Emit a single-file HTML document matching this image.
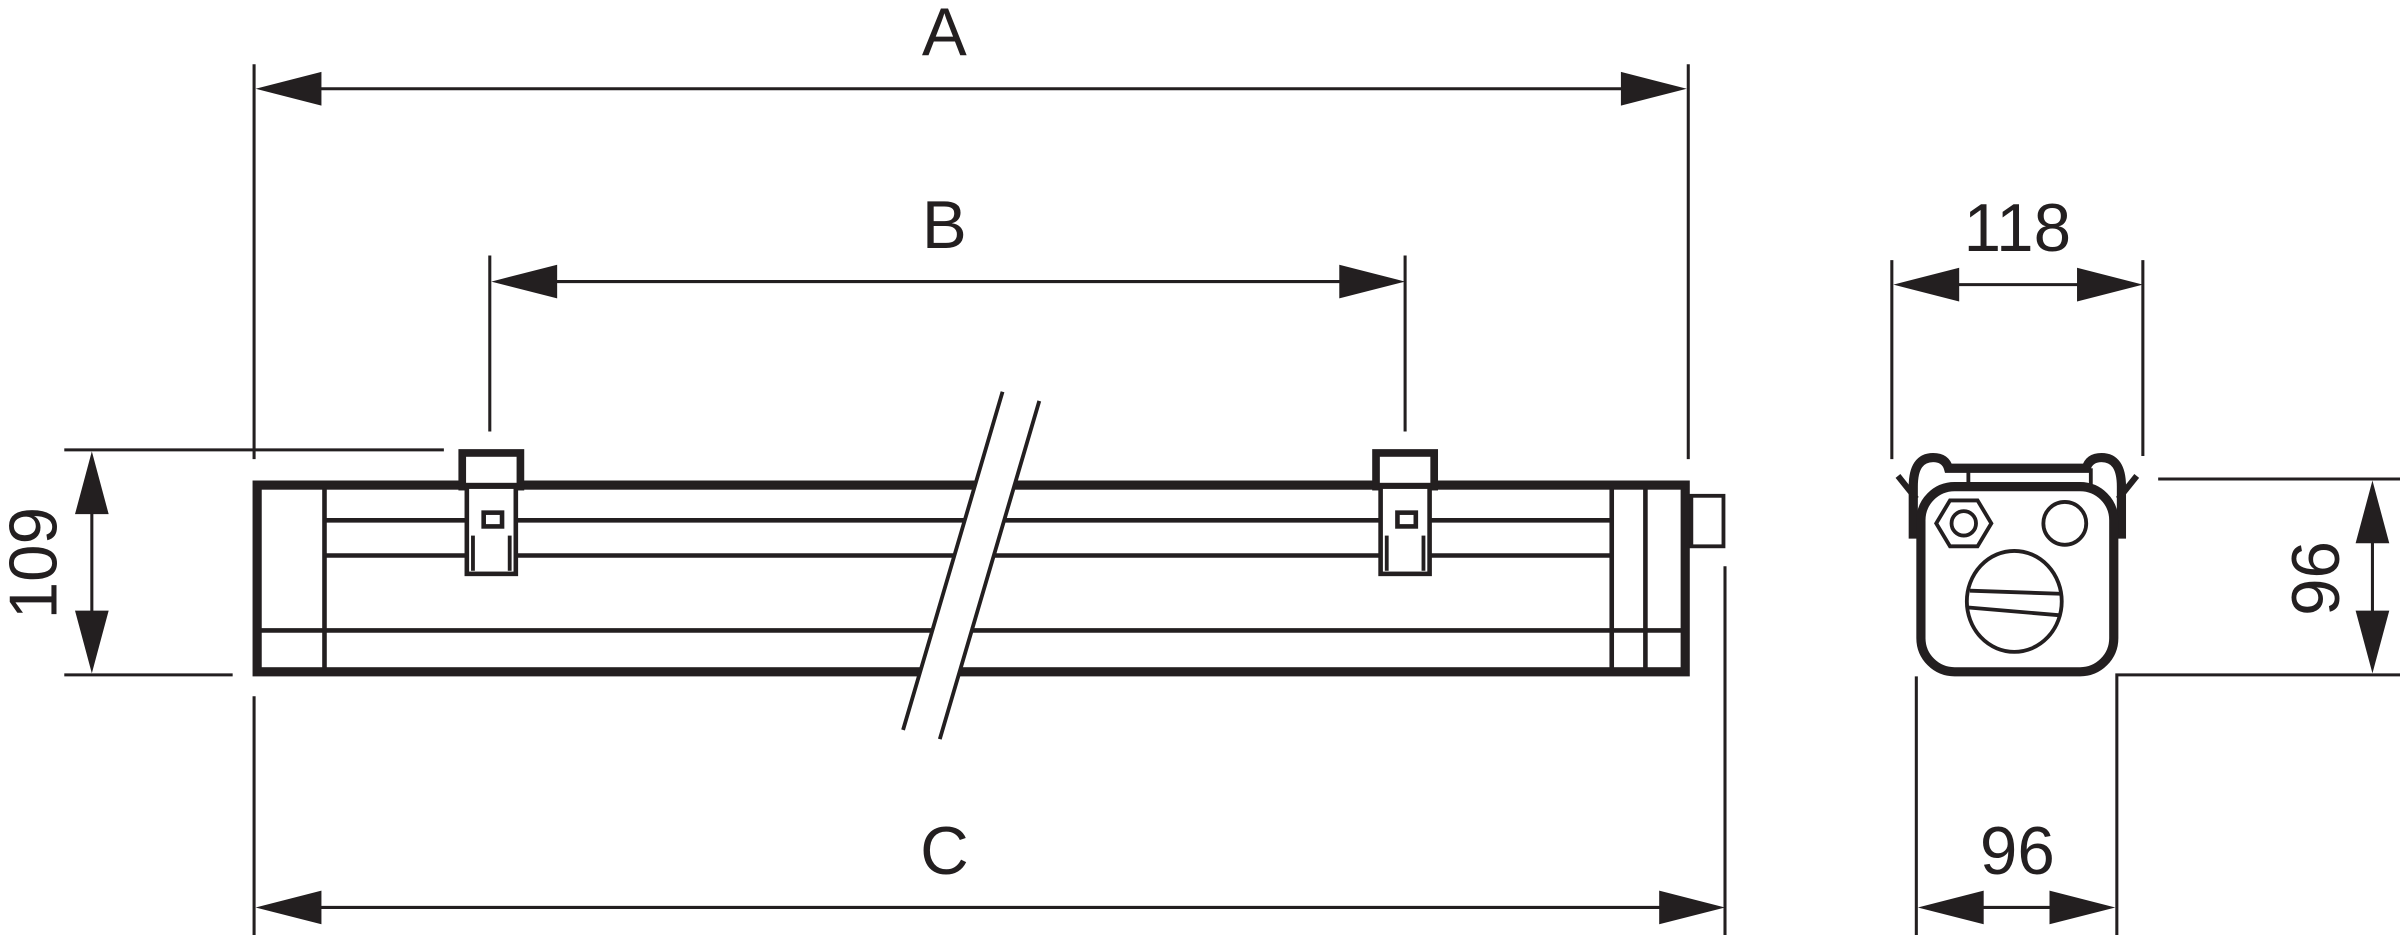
<!DOCTYPE html>
<html><head><meta charset="utf-8"><style>
html,body{margin:0;padding:0;background:#fff;}
svg{display:block;}
text{font-family:"Liberation Sans",sans-serif;fill:#231f20;}
</style></head><body>
<svg width="2400" height="935" viewBox="0 0 1568 611" preserveAspectRatio="none" xmlns="http://www.w3.org/2000/svg">
<g stroke="#231f20" fill="none" stroke-width="2">
<!-- A -->
<line x1="166" y1="42" x2="166" y2="300"/>
<line x1="1103" y1="42" x2="1103" y2="300"/>
<line x1="200" y1="58" x2="1070" y2="58"/>
<!-- B -->
<line x1="320" y1="167" x2="320" y2="282"/>
<line x1="918" y1="167" x2="918" y2="282"/>
<line x1="355" y1="184" x2="885" y2="184"/>
<!-- C -->
<line x1="166" y1="455" x2="166" y2="611"/>
<line x1="1127" y1="370" x2="1127" y2="611"/>
<line x1="200" y1="593" x2="1095" y2="593"/>
<!-- 109 -->
<line x1="42" y1="294" x2="290" y2="294"/>
<line x1="42" y1="441" x2="152" y2="441"/>
<line x1="60" y1="320" x2="60" y2="415"/>
<!-- 118 -->
<line x1="1236" y1="170" x2="1236" y2="300"/>
<line x1="1400" y1="170" x2="1400" y2="298"/>
<line x1="1270" y1="186" x2="1366" y2="186"/>
<!-- 96 right -->
<line x1="1410" y1="313" x2="1568" y2="313"/>
<polyline points="1383,611 1383,441 1568,441"/>
<line x1="1550" y1="340" x2="1550" y2="415"/>
<!-- 96 bottom -->
<line x1="1252" y1="442" x2="1252" y2="611"/>
<line x1="1285" y1="593" x2="1350" y2="593"/>
</g>
<g fill="#231f20">
<polygon points="167,58 210,47 210,69"/>
<polygon points="1102,58 1059,47 1059,69"/>
<polygon points="321,184 364,173 364,195"/>
<polygon points="918,184 875,173 875,195"/>
<polygon points="167,593 210,582 210,604"/>
<polygon points="1127,593 1084,582 1084,604"/>
<polygon points="60,295 49,336 71,336"/>
<polygon points="60,440 49,399 71,399"/>
<polygon points="1237,186 1280,175 1280,197"/>
<polygon points="1400,186 1357,175 1357,197"/>
<polygon points="1550,314 1539,355 1561,355"/>
<polygon points="1550,440 1539,399 1561,399"/>
<polygon points="1253,593 1296,582 1296,604"/>
<polygon points="1382,593 1339,582 1339,604"/>
</g>
<g font-size="44" text-anchor="middle">
<text x="617" y="36">A</text>
<text x="617" y="162">B</text>
<text x="617" y="571">C</text>
<text x="1318" y="164">118</text>
<text x="1318" y="571">96</text>
<text transform="translate(37,368) rotate(-90)">109</text>
<text transform="translate(1528,378) rotate(-90)">96</text>
</g>
<!-- main body -->
<g stroke="#231f20" fill="none">
<rect x="168" y="317" width="933" height="122" stroke-width="6"/>
<line x1="213" y1="340" x2="1053" y2="340" stroke-width="3"/>
<line x1="213" y1="363" x2="1053" y2="363" stroke-width="3"/>
<line x1="170" y1="412" x2="1100" y2="412" stroke-width="3"/>
<line x1="212" y1="319" x2="212" y2="438" stroke-width="3"/>
<line x1="1053" y1="319" x2="1053" y2="438" stroke-width="3"/>
<line x1="1075" y1="319" x2="1075" y2="438" stroke-width="3"/>
<rect x="1105" y="324" width="21" height="33" stroke-width="2.5"/>
</g>
<!-- clips -->
<g stroke="#231f20" fill="#fff">
<rect x="302" y="296" width="38" height="22" stroke-width="5"/>
<rect x="305" y="318" width="32" height="57" stroke-width="3"/>
<rect x="316" y="335" width="12" height="9" stroke-width="3"/>
<line x1="309" y1="350" x2="309" y2="373" stroke-width="2.5"/>
<line x1="333" y1="350" x2="333" y2="373" stroke-width="2.5"/>
<rect x="899" y="296" width="38" height="22" stroke-width="5"/>
<rect x="902" y="318" width="32" height="57" stroke-width="3"/>
<rect x="913" y="335" width="12" height="9" stroke-width="3"/>
<line x1="906" y1="350" x2="906" y2="373" stroke-width="2.5"/>
<line x1="930" y1="350" x2="930" y2="373" stroke-width="2.5"/>
</g>
<!-- break -->
<polygon points="655,256 679,262 614,483 590,477" fill="#fff" stroke="none"/>
<g stroke="#231f20" stroke-width="2.5">
<line x1="655" y1="256" x2="590" y2="477"/>
<line x1="679" y1="262" x2="614" y2="483"/>
</g>
<!-- end view -->
<g stroke="#231f20" fill="none">
<path d="M1250,352 L1250,318 Q1250,299 1263,299 Q1271,299 1273,306 L1363,306 Q1365,299 1373,299 Q1386,299 1386,318 L1386,352" stroke-width="6"/>
<line x1="1286" y1="306" x2="1286" y2="318" stroke-width="2.5"/>
<line x1="1366" y1="306" x2="1366" y2="318" stroke-width="2.5"/>
<line x1="1240" y1="311" x2="1252" y2="326" stroke-width="4"/>
<line x1="1396" y1="311" x2="1384" y2="326" stroke-width="4"/>
<rect x="1255" y="318" width="126" height="121" rx="22" fill="#fff" stroke-width="6"/>
<polygon points="1274,327 1292,327 1301,342 1292,357 1274,357 1265,342" stroke-width="2.5"/>
<circle cx="1283" cy="342" r="8" stroke-width="2.5"/>
<circle cx="1349" cy="342" r="14" stroke-width="2.5"/>
<ellipse cx="1316" cy="393" rx="31" ry="33" stroke-width="2.5"/>
<line x1="1287" y1="386" x2="1346" y2="388" stroke-width="2.5"/>
<line x1="1286" y1="397" x2="1345" y2="402" stroke-width="2.5"/>
</g>
</svg>
</body></html>
